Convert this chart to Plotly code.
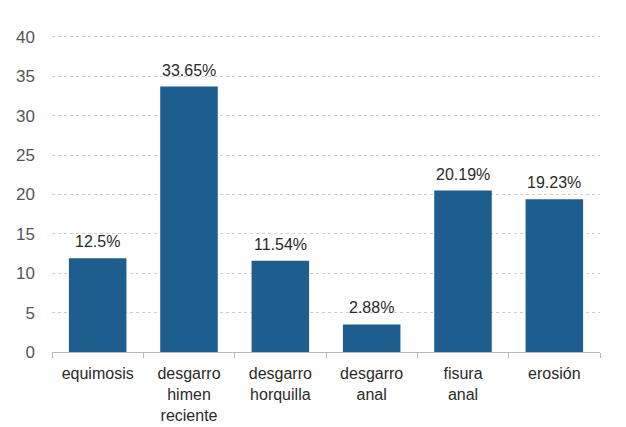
import plotly.graph_objects as go

categories = ["equimosis", "desgarro<br>himen<br>reciente", "desgarro<br>horquilla",
              "desgarro<br>anal", "fisura<br>anal", "erosión"]
bar_heights = [11.9, 33.7, 11.6, 3.5, 20.5, 19.4]
value_labels = ["12.5%", "33.65%", "11.54%", "2.88%", "20.19%", "19.23%"]
y_ticks = [0, 5, 10, 15, 20, 25, 30, 35, 40]

fig = go.Figure(go.Bar(
    x=categories, y=bar_heights,
    marker=dict(color="#1d5e8f", line=dict(width=0)), width=0.63,
))

for c, h, t in zip(categories, bar_heights, value_labels):
    fig.add_annotation(x=c, y=h, text=t, showarrow=False, yanchor="bottom", yshift=6,
                       font=dict(size=16, color="#2a2a2a"))

fig.update_layout(
    width=626, height=427, margin=dict(l=52, r=26, t=33, b=75),
    paper_bgcolor="white", plot_bgcolor="white",
    font=dict(family="Liberation Sans, Arial, sans-serif", size=16, color="#333333"),
    showlegend=False,
    xaxis=dict(showline=True, linecolor="#b8b8b8", linewidth=1, ticks="outside",
               tickson="boundaries", ticklen=5, tickcolor="#b8b8b8",
               tickfont=dict(size=16, color="#2a2a2a"), showgrid=False,
               ticklabelstandoff=7, automargin=False),
    yaxis=dict(range=[0, 40.5], tickvals=y_ticks, showgrid=True, gridcolor="#cccccc",
               griddash="dot", gridwidth=1, zeroline=False, showline=False,
               tickfont=dict(size=17, color="#555555"), ticks="", ticklabelstandoff=16,
               automargin=False),
)

fig.write_html("out.html")
